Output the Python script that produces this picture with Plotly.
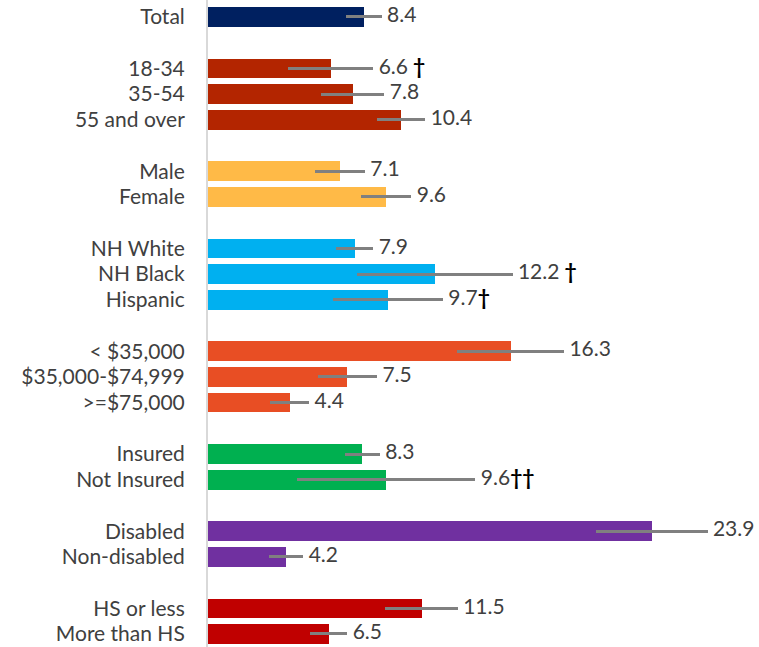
import plotly.graph_objects as go

# ---- data ----
groups = [
    ["Total"],
    ["18-34", "35-54", "55 and over"],
    ["Male", "Female"],
    ["NH White", "NH Black", "Hispanic"],
    ["< $35,000", "$35,000-$74,999", ">=$75,000"],
    ["Insured", "Not Insured"],
    ["Disabled", "Non-disabled"],
    ["HS or less", "More than HS"],
]
group_colors = ["#002060", "#B32500", "#FFBA47", "#00B0F0", "#E84E24",
                "#00B050", "#7030A0", "#C00000"]
values = [
    [8.4],
    [6.6, 7.8, 10.4],
    [7.1, 9.6],
    [7.9, 12.2, 9.7],
    [16.3, 7.5, 4.4],
    [8.3, 9.6],
    [23.9, 4.2],
    [11.5, 6.5],
]
errors = [
    [0.95],
    [2.3, 1.7, 1.3],
    [1.35, 1.35],
    [1.0, 4.2, 2.95],
    [2.87, 1.6, 1.05],
    [0.95, 4.8],
    [3.0, 0.93],
    [1.95, 1.0],
]
notes = [
    [""],
    [" †", "", ""],
    ["", ""],
    ["", " †", "†"],
    ["", "", ""],
    ["", "††"],
    ["", ""],
    ["", ""],
]

FONT = "Lato, Liberation Sans, sans-serif"

# ---- build positions (one blank slot between groups) ----
cats, ys, vals, errs, cols, labels = [], [], [], [], [], []
slot = 0
for g, color, vs, es, ns in zip(groups, group_colors, values, errors, notes):
    for c, v, e, n in zip(g, vs, es, ns):
        cats.append(c)
        ys.append(slot)
        vals.append(v)
        errs.append(e)
        cols.append(color)
        lab = f" {v:.1f}"
        if n:
            lab += f"<span style='color:#000000'><b>{n}</b></span>"
        labels.append(lab)
        slot += 1
    slot += 1
last = slot - 2

fig = go.Figure()
fig.add_trace(go.Bar(
    x=vals, y=ys, orientation="h", marker=dict(color=cols, line=dict(width=0)),
    width=0.76,
    error_x=dict(type="data", array=errs, color="#808080", thickness=3, width=0),
    hoverinfo="skip",
))
fig.add_trace(go.Scatter(
    x=[v + e for v, e in zip(vals, errs)], y=ys, mode="text", text=labels,
    textposition="middle right",
    textfont=dict(family=FONT, size=21, color="#404040"),
    hoverinfo="skip", cliponaxis=False,
))

fig.update_layout(
    width=759, height=647,
    margin=dict(l=208, r=5, t=0, b=0),
    plot_bgcolor="white", paper_bgcolor="white",
    showlegend=False,
    bargap=0,
    xaxis=dict(range=[0, 29.4], showgrid=False, zeroline=False, showticklabels=False,
               showline=False),
    yaxis=dict(range=[last + 0.506, -0.661], tickvals=ys, ticktext=cats,
               showgrid=False, zeroline=False, showline=True, linecolor="#D9D9D9",
               linewidth=2, ticks="", ticklabelstandoff=17,
               tickfont=dict(family=FONT, size=21, color="#404040")),
)

fig.write_html("out.html", config={"displayModeBar": False},
               post_script="document.body.style.margin='0';")
